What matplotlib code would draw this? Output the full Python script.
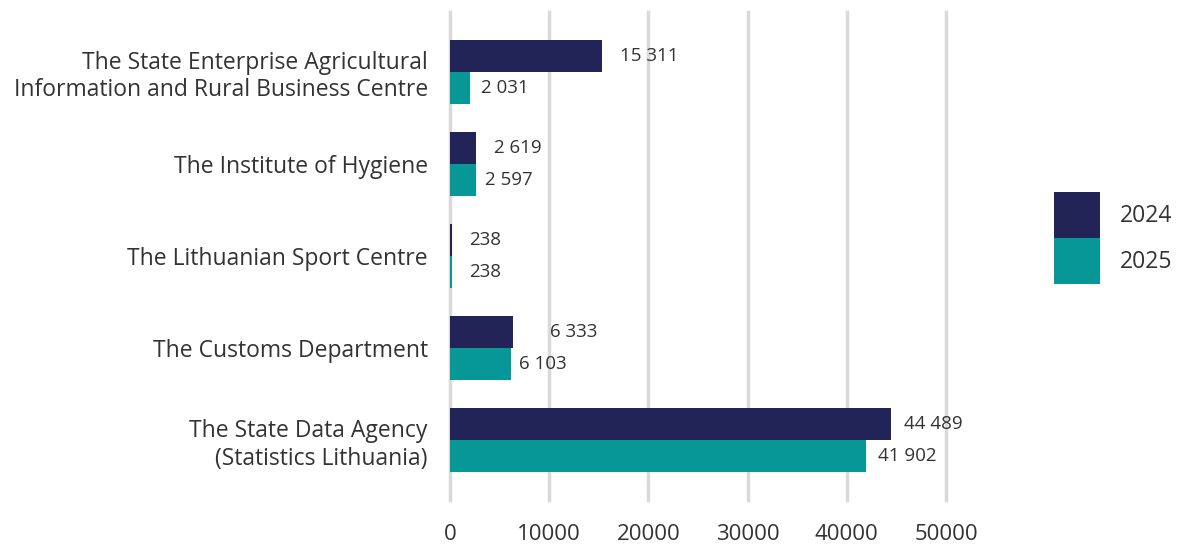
import numpy as np
import matplotlib
matplotlib.use("Agg")
from matplotlib import pyplot as plt

# data
categories = ["The State Enterprise Agricultural\nInformation and Rural Business Centre",
              "The Institute of Hygiene",
              "The Lithuanian Sport Centre",
              "The Customs Department",
              "The State Data Agency\n(Statistics Lithuania)"]
years = ["2024", "2025"]
values_2024 = [15311, 2619, 238, 6333, 44489]
values_2025 = [2031, 2597, 238, 6103, 41902]
xticks = [0, 10000, 20000, 30000, 40000, 50000]

plt.rcParams['font.family'] = ['Open Sans', 'DejaVu Sans']
text_col = '#333333'
col_2024 = '#222457'
col_2025 = '#079797'

fig = plt.figure(figsize=(11.79, 5.46), dpi=100)
ax = fig.add_axes([450/1179, 1 - 500/546, 496/1179, 488/546])

y = np.arange(len(categories))
h = 0.35
b1 = ax.barh(y - h/2, values_2024, height=h, color=col_2024, label=years[0], zorder=3)
b2 = ax.barh(y + h/2, values_2025, height=h, color=col_2025, label=years[1], zorder=3)

# label offsets (points), roughly as placed in the original
pad_2024 = [13, 13, 12, 27, 9]
pad_2025 = [8, 7, 12, 6, 9]
for bars, vals, pads in [(b1, values_2024, pad_2024), (b2, values_2025, pad_2025)]:
    for bar, v, p in zip(bars, vals, pads):
        ax.annotate(f"{v:,}".replace(",", " "),
                    (bar.get_width(), bar.get_y() + bar.get_height()/2),
                    xytext=(p, 0), textcoords='offset points',
                    ha='left', va='center', fontsize=13.5, color=text_col)

ax.set_xlim(0, 50000)
ax.set_ylim(4.65, -0.65)
ax.set_xticks(xticks)
ax.set_xticklabels([str(t) for t in xticks])
ax.set_yticks(y)
ax.set_yticklabels(categories)
ax.tick_params(axis='x', length=0, pad=17, labelsize=16, labelcolor=text_col)
ax.tick_params(axis='y', length=0, pad=16, labelsize=16.5, labelcolor=text_col)
ax.grid(axis='x', color='#d9d9d9', linewidth=2.5, zorder=0)
for gl in ax.get_xgridlines():
    gl.set_clip_on(False)
for s in ax.spines.values():
    s.set_visible(False)

fig.legend(loc='center left', bbox_to_anchor=(1043/1179, 1 - 238/546),
           frameon=False, fontsize=16.5, handlelength=2.0, handleheight=2.7,
           labelspacing=0, borderpad=0, handletextpad=0.85,
           labelcolor=text_col)

fig.savefig("out.png", dpi=100)
